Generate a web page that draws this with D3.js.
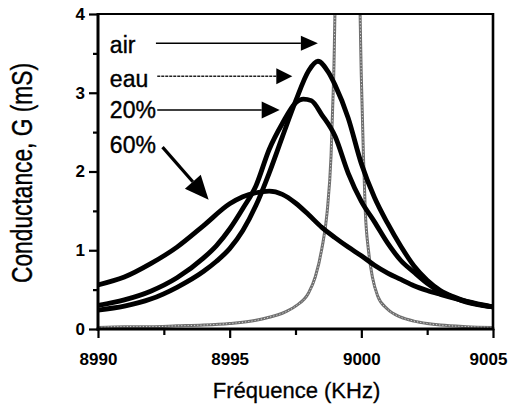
<!DOCTYPE html>
<html><head><meta charset="utf-8">
<script src="https://cdn.jsdelivr.net/npm/d3@7/dist/d3.min.js"></script>
<style>body{margin:0;background:#fff}svg{display:block}</style>
</head><body>
<script>
// ---- data ----
const xTicks = [8990, 8995, 9000, 9005];
const xMinor = [8992.5, 8997.5, 9002.5];
const yTicks = [0, 1, 2, 3, 4];
const yMinor = [0.5, 1.5, 2.5, 3.5];

const freqAir = [8990, 8991, 8992, 8993, 8994, 8995, 8996, 8996.5, 8997, 8997.5, 8998, 8998.25, 8998.5, 8998.7, 8998.85, 8998.95, 8999.05, 8999.9, 9000.0, 9000.08, 9000.15, 9000.27, 9000.42, 9000.62, 9001, 9001.5, 9002, 9002.5, 9003, 9004, 9005];
const gAir    = [0.02, 0.03, 0.03, 0.04, 0.05, 0.07, 0.11, 0.15, 0.20, 0.29, 0.46, 0.66, 1.02, 1.48, 2.2, 3.2, 4.6, 4.6, 3.2, 2.2, 1.5, 1.0, 0.66, 0.42, 0.25, 0.15, 0.10, 0.07, 0.05, 0.03, 0.02];

const freqEau = [8990, 8991, 8992, 8993, 8994, 8994.5, 8995, 8995.5, 8996, 8996.5, 8997, 8997.5, 8998, 8998.35, 8998.75, 8999, 8999.5, 9000, 9000.5, 9001, 9001.5, 9002, 9002.5, 9003, 9003.5, 9004, 9005];
const gEau    = [0.24, 0.29, 0.38, 0.53, 0.73, 0.86, 1.02, 1.25, 1.57, 1.98, 2.44, 2.89, 3.28, 3.40, 3.26, 3.10, 2.68, 2.10, 1.67, 1.34, 1.05, 0.80, 0.62, 0.49, 0.41, 0.35, 0.28];

const freq20 = [8990, 8991, 8992, 8993, 8994, 8994.5, 8995, 8995.5, 8996, 8996.5, 8997, 8997.5, 8997.8, 8998.1, 8998.5, 8999, 8999.5, 9000, 9000.5, 9001, 9001.5, 9002, 9002.5, 9003, 9003.5, 9004, 9005];
const g20    = [0.30, 0.37, 0.48, 0.65, 0.90, 1.06, 1.27, 1.53, 1.82, 2.28, 2.61, 2.87, 2.92, 2.90, 2.72, 2.45, 1.98, 1.62, 1.36, 1.09, 0.87, 0.72, 0.58, 0.47, 0.40, 0.34, 0.28];

const freq60 = [8990, 8991, 8992, 8993, 8994, 8995, 8995.5, 8996, 8996.5, 8997, 8997.5, 8998, 8998.5, 8999, 8999.5, 9000, 9000.5, 9001, 9001.5, 9002, 9002.5, 9003, 9004, 9005];
const g60    = [0.56, 0.66, 0.83, 1.04, 1.31, 1.59, 1.68, 1.73, 1.75, 1.71, 1.60, 1.45, 1.29, 1.16, 1.04, 0.93, 0.81, 0.71, 0.63, 0.55, 0.49, 0.44, 0.35, 0.28];

const labels     = ["air", "eau", "20%", "60%"];
const labelFreq  = 8990.45;
const labelG     = [3.50, 3.07, 2.68, 2.23];
const arrowFrom  = [[8992.2, 3.63], [8992.25, 3.21], [8992.25, 2.78], [8992.45, 2.31]];
const arrowTo    = [[8998.35, 3.63], [8997.38, 3.21], [8996.9, 2.78], [8994.2, 1.64]];

const xTitle = "Fréquence (KHz)";
const yTitle = "Conductance, G (mS)";

// ---- drawing ----
const W = 509, H = 405;
const svg = d3.select("body").append("svg").attr("width", W).attr("height", H);
const x = d3.scaleLinear().domain([8990, 9005]).range([98, 493]);
const y = d3.scaleLinear().domain([0, 4]).range([329, 14]);
const FONT = "'Liberation Sans', Arial, Helvetica, sans-serif";

svg.append("clipPath").attr("id", "clip").append("rect")
  .attr("x", x(8990)).attr("y", y(4)).attr("width", x(9005) - x(8990)).attr("height", y(0) - y(4));

const line = d3.line().x(d => x(d[0])).y(d => y(d[1])).curve(d3.curveMonotoneX);
const zip = (a, b) => a.map((v, i) => [v, b[i]]);

const plot = svg.append("g").attr("clip-path", "url(#clip)");

// air: grey beaded curve
plot.append("path").attr("d", line(zip(freqAir, gAir)))
  .attr("fill", "none").attr("stroke", "#6f6f6f").attr("stroke-width", 3).attr("stroke-linejoin", "round");
plot.append("path").attr("d", line(zip(freqAir, gAir)))
  .attr("fill", "none").attr("stroke", "#d8d8d8").attr("stroke-width", 1).attr("stroke-dasharray", "1.2 2");

// black curves
[[freq60, g60], [freq20, g20], [freqEau, gEau]].forEach(([f, g]) => {
  plot.append("path").attr("d", line(zip(f, g)))
    .attr("fill", "none").attr("stroke", "#000").attr("stroke-width", 4.8)
    .attr("stroke-linejoin", "round").attr("stroke-linecap", "round");
});

// axes
const xAxis = svg.append("g").attr("transform", `translate(0,${y(0)})`)
  .call(d3.axisBottom(x).tickValues(xTicks).tickSize(9).tickPadding(15).tickFormat(d3.format("d")));
const xAxisMinor = svg.append("g").attr("transform", `translate(0,${y(0)})`)
  .call(d3.axisBottom(x).tickValues(xMinor).tickSize(6).tickFormat(""));
const yAxis = svg.append("g").attr("transform", `translate(${x(8990)},0)`)
  .call(d3.axisLeft(y).tickValues(yTicks).tickSize(9).tickPadding(4).tickFormat(d3.format("d")));
const yAxisMinor = svg.append("g").attr("transform", `translate(${x(8990)},0)`)
  .call(d3.axisLeft(y).tickValues(yMinor).tickSize(5).tickFormat(""));

[xAxis, xAxisMinor, yAxis, yAxisMinor].forEach(g => {
  g.select(".domain").remove();
  g.selectAll(".tick line").attr("stroke", "#000").attr("stroke-width", 2.2);
  g.selectAll("text").attr("font-family", FONT).attr("font-size", 17).attr("font-weight", "bold").attr("fill", "#000");
});
// keep the last x label inside the page
xAxis.selectAll(".tick text").filter(d => d === 9005).attr("dx", -5);

// frame
const fr = svg.append("g").attr("stroke", "#000").attr("fill", "none");
fr.append("line").attr("x1", x(8990)).attr("x2", x(9005)).attr("y1", y(4)).attr("y2", y(4)).attr("stroke-width", 2);
fr.append("line").attr("x1", x(9005)).attr("x2", x(9005)).attr("y1", y(4) - 1).attr("y2", y(0) + 1).attr("stroke-width", 2.6);
fr.append("line").attr("x1", x(8990)).attr("x2", x(8990)).attr("y1", y(4) - 1).attr("y2", y(0) + 1.5).attr("stroke-width", 3);
fr.append("line").attr("x1", x(8990) - 1.5).attr("x2", x(9005) + 1.3).attr("y1", y(0)).attr("y2", y(0)).attr("stroke-width", 3);

// titles
svg.append("text").attr("x", (x(8990) + x(9005)) / 2 + 1).attr("y", 398)
  .attr("text-anchor", "middle").attr("font-family", FONT).attr("font-size", 22)
  .attr("stroke", "#000").attr("stroke-width", 0.3).text(xTitle);
svg.append("text").attr("transform", `translate(32,${173}) rotate(-90)`)
  .attr("text-anchor", "middle").attr("font-family", FONT).attr("font-size", 29)
  .attr("stroke", "#000").attr("stroke-width", 0.4)
  .attr("textLength", 220).attr("lengthAdjust", "spacingAndGlyphs").text(yTitle);

// annotations
labels.forEach((t, i) => {
  svg.append("text").attr("x", x(labelFreq)).attr("y", y(labelG[i]))
    .attr("font-family", FONT).attr("font-size", 23).attr("fill", "#000")
    .attr("stroke", "#000").attr("stroke-width", 0.4).text(t);
});
const heads = [[17, 7.5], [16, 8], [18, 8.5], [24, 10.5]];
const widths = [1.5, 1.6, 1.5, 3.2];
arrowFrom.forEach((p, i) => {
  const x1 = x(p[0]), y1 = y(p[1]), x2 = x(arrowTo[i][0]), y2 = y(arrowTo[i][1]);
  const ang = Math.atan2(y2 - y1, x2 - x1);
  const [hl, hw] = heads[i];
  const bx = x2 - hl * Math.cos(ang), by = y2 - hl * Math.sin(ang);
  svg.append("line").attr("x1", x1).attr("y1", y1).attr("x2", bx).attr("y2", by)
    .attr("stroke", i === 1 ? "#222" : "#000").attr("stroke-width", widths[i])
    .attr("stroke-dasharray", i === 1 ? "3 1" : null);
  const px = -Math.sin(ang), py = Math.cos(ang);
  svg.append("polygon")
    .attr("points", [[x2, y2], [bx + px * hw, by + py * hw], [bx - px * hw, by - py * hw]].map(q => q.join(",")).join(" "))
    .attr("fill", "#000");
});
</script>
</body></html>
